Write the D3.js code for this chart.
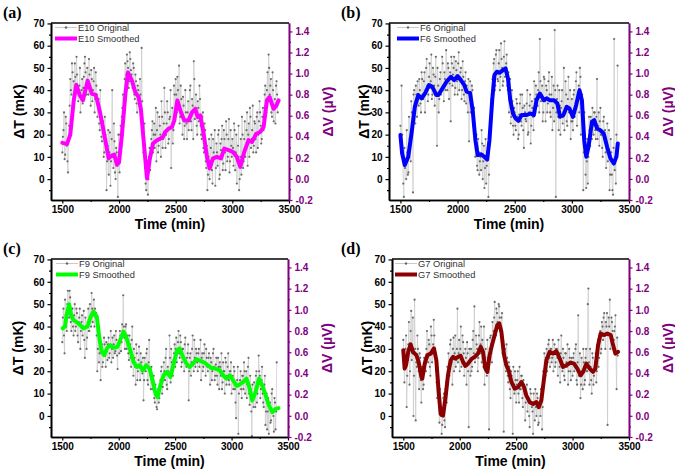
<!DOCTYPE html>
<html><head><meta charset="utf-8">
<script src="https://cdn.jsdelivr.net/npm/d3@7"></script>
<style>body{margin:0;background:#fff}svg{display:block}</style>
</head><body><svg id="c" width="675" height="470"></svg>
<script>
// ---------------- DATA ----------------
const sampleTimes = d3.range(1500, 3401, 10); // samples at 1500,1510,...,3400 (min)
const offsetTimes = d3.range(1505, 3400, 10); // samples at 1505,1515,...,3395 (min)

const e10Original = [
12,22,9,28,15,3,24,45,38,48,
44,52,39,47,35,42,30,40,34,46,
55,43,50,38,47,33,45,40,50,36,
42,28,36,22,30,17,26,12,20,-5,
15,2,21,8,40,5,17,0,12,-8,
9,20,15,32,26,45,40,56,50,44,
54,47,41,50,36,44,30,40,33,38,
59,25,18,5,-5,8,0,14,10,22,
12,25,20,8,30,15,24,10,28,18,
41,14,25,30,18,28,5,32,22,38,
45,30,40,51,28,36,20,33,24,30,
18,35,28,42,22,33,53,27,38,20,
32,42,24,18,30,12,22,5,-5,10,
0,14,4,18,9,-3,16,6,22,2,
13,24,7,18,4,20,10,27,8,15,
18,6,22,12,-2,15,-5,10,2,20,
8,26,14,30,20,10,28,18,33,15,
25,12,30,20,35,24,18,32,26,42,
30,48,56,38,45,28,40,33,25,44,30];
const e10OriginalOffset = [
19,30,11,25,8,18,33,40,52,36,
38,46,55,42,38,50,37,45,41,52,
48,38,44,54,41,49,35,44,30,48,
38,33,25,40,19,24,10,28,15,8,
22,12,-3,18,10,25,3,14,6,20,
3,24,28,38,35,52,47,53,41,57,
49,43,52,38,47,34,42,36,45,30,
35,12,25,-2,6,-7,10,4,18,26,
20,14,32,22,12,28,20,35,14,25,
30,20,35,16,27,40,24,16,42,30,
38,46,33,25,42,30,37,18,40,25,
30,22,40,26,36,18,45,32,24,35,
26,36,20,28,14,25,8,15,2,18,
8,20,-2,12,22,5,12,20,0,16,
18,4,22,12,26,8,18,3,22,10,
14,25,4,20,8,24,0,18,28,5,
18,10,22,6,25,32,14,22,12,26,
18,28,14,26,30,16,28,22,38,33,
40,35,50,42,30,48,26,36,42,38];
const e10Smoothed = [[1500,16.3],[1541,15.7],[1570,20],[1600,35],[1623,42.4],[1655,37.6],[1682,35.4],[1723,44.3],[1760,38.4],[1791,38],[1805,36],[1835,29.4],[1879,17.5],[1909,9.3],[1938,10.7],[1959,11],[1982,6.5],[2000,7.5],[2026,20],[2056,38],[2079,48],[2114,44.3],[2144,39],[2173,36.9],[2194,31],[2217,17.5],[2247,0.3],[2270,8.5],[2300,16],[2335,17.5],[2364,18.2],[2388,19],[2408,21.2],[2438,22.7],[2467,23.4],[2488,26.4],[2515,35.4],[2541,30.9],[2576,26.4],[2614,26.4],[2644,30],[2673,31.6],[2694,27.9],[2717,28.7],[2747,20.4],[2776,10],[2800,4.8],[2829,9.3],[2864,10],[2900,9.3],[2929,13.7],[2967,13],[3005,12.2],[3040,10],[3070,5.5],[3105,12.2],[3143,17.5],[3173,16.7],[3211,20.4],[3246,21.2],[3276,23.4],[3305,35.4],[3329,36.9],[3364,31.6],[3388,33],[3408,35.4]];

const f6Original = [
24,42,10,-8,5,0,12,3,18,8,
30,-6,40,25,38,44,33,40,30,45,
36,48,40,54,35,46,41,56,38,47,
33,55,15,42,36,48,40,52,35,45,
58,40,50,43,26,52,47,55,41,49,
38,57,45,50,40,46,35,48,42,30,
17,44,36,40,28,20,14,6,18,2,
10,22,0,15,5,-2,12,-8,18,28,
38,46,54,42,58,45,52,40,61,50,
44,62,48,56,40,30,45,28,35,20,
30,22,34,18,29,38,24,32,14,30,
26,40,21,33,16,35,28,44,30,38,
33,48,63,35,42,30,45,26,40,34,
48,30,38,22,42,67,-8,36,28,40,
20,35,25,50,30,38,24,46,32,18,
36,22,40,30,48,35,42,50,20,38,
-5,30,2,8,-2,28,15,25,32,20,
30,18,45,24,15,32,20,10,28,22,
5,25,12,-5,18,2,-7,63,10,20,51];
const f6OriginalOffset = [
12,20,-2,14,8,22,2,28,14,35,
22,38,32,42,28,36,45,34,48,38,
44,30,50,42,38,52,44,36,50,42,
46,38,50,30,45,38,55,42,48,40,
44,52,36,48,55,42,50,38,53,44,
52,40,48,36,53,38,44,34,40,45,
38,30,42,24,32,10,20,4,12,8,
4,16,8,-4,18,6,14,2,24,36,
45,52,40,56,48,44,58,46,54,42,
55,46,52,42,48,36,25,40,24,32,
24,36,28,20,34,26,38,22,33,27,
34,20,30,38,24,32,22,36,42,33,
40,30,44,38,26,46,35,42,30,44,
38,28,46,32,26,40,30,42,22,33,
32,40,28,22,44,26,36,30,40,26,
26,38,28,44,24,36,30,46,34,28,
12,20,-4,18,10,22,28,18,24,30,
22,28,18,30,26,20,14,26,18,12,
16,8,22,2,12,-5,14,4,-2,16];
const f6Smoothed = [[1500,19.8],[1515,11.5],[1538,6.3],[1568,10],[1597,20.5],[1626,32.5],[1656,37.8],[1685,36.3],[1715,38.5],[1750,42.3],[1779,41.5],[1815,37.8],[1832,37.8],[1868,40.8],[1903,43.8],[1941,46],[1970,44.5],[2000,46.3],[2029,44.5],[2059,42.3],[2079,39.3],[2109,38.8],[2132,31],[2156,17.5],[2176,10.8],[2206,11.2],[2235,10],[2259,8.8],[2279,17.5],[2303,35.5],[2323,46.8],[2344,48.3],[2367,47.8],[2397,49],[2420,49.8],[2441,45.3],[2461,35.5],[2485,29.5],[2508,27.3],[2532,26.2],[2561,28.8],[2602,28.8],[2638,29.5],[2667,28.8],[2691,35.5],[2720,38.5],[2755,35.5],[2779,36.3],[2808,35.5],[2844,35.5],[2873,34],[2897,28],[2926,28.8],[2955,32.5],[2979,31.8],[3008,28],[3038,33.3],[3067,40],[3088,35.5],[3108,17.5],[3126,10],[3146,14.5],[3176,25.8],[3196,26.5],[3220,22.8],[3249,22],[3279,20.5],[3308,14.5],[3338,9.3],[3367,7],[3390,10],[3402,16]];

const f9Original = [
33,48,28,45,38,56,44,53,38,48,
36,50,40,46,33,44,30,42,36,47,
26,40,35,48,38,44,55,42,52,48,
46,20,40,28,16,32,24,35,27,33,
25,35,28,38,30,26,36,29,34,21,
32,38,29,41,54,35,40,30,36,25,
32,22,40,18,26,14,28,20,31,16,
24,19,7,26,20,30,14,34,18,22,
12,18,6,10,3,12,8,16,22,13,
24,16,30,12,20,36,15,24,18,28,
22,35,28,38,26,33,24,30,20,35,
22,28,7,26,18,30,24,34,22,28,
20,30,25,16,28,22,32,18,26,20,
28,14,24,20,30,16,23,18,26,12,
22,28,15,20,10,24,18,28,14,20,
10,18,22,12,-1,16,-8,14,20,8,
18,24,10,20,14,26,5,12,-9,8,
15,4,20,10,27,18,12,22,6,14,
-4,10,2,-8,6,-2,12,0,8,-6,24];
const f9OriginalOffset = [
44,36,52,40,50,46,56,42,48,40,
45,38,48,36,42,48,38,45,40,34,
44,30,42,38,50,40,48,45,40,44,
36,30,24,34,30,22,28,32,22,29,
32,26,31,24,35,32,28,38,27,32,
28,36,33,38,40,30,41,34,28,36,
26,34,24,30,22,32,16,25,22,28,
20,26,16,22,28,16,24,20,12,18,
16,8,14,4,10,6,14,20,10,18,
20,26,14,22,18,26,30,20,25,32,
30,24,33,28,36,22,30,26,32,24,
26,32,20,28,24,36,20,26,30,24,
28,22,34,26,20,28,24,30,22,26,
22,26,16,28,22,18,26,14,22,24,
18,12,24,20,26,14,22,16,20,24,
16,12,20,6,14,22,10,16,12,18,
12,20,16,8,22,10,18,2,14,4,
10,18,6,14,20,8,16,10,4,18,
2,-6,8,4,-3,10,2,-7,6,2];
const f9Smoothed = [[1504,39.2],[1524,40],[1539,45.2],[1560,50],[1578,45.2],[1598,43],[1643,41.4],[1687,39.2],[1723,40],[1752,44.4],[1776,46.7],[1806,44.4],[1829,34.7],[1850,28.7],[1871,27.2],[1895,30.2],[1924,31.7],[1954,30.5],[1989,30.9],[2019,34.7],[2043,37.7],[2066,35.4],[2102,29.4],[2132,24.2],[2161,21.9],[2185,22.7],[2215,20.4],[2244,22.7],[2274,21.2],[2303,15.2],[2327,9.9],[2345,8.4],[2369,13.7],[2398,18.2],[2428,19.7],[2458,17.4],[2487,23.4],[2517,29.4],[2540,30.2],[2570,26.4],[2600,23.4],[2629,21.9],[2659,23.4],[2688,25.4],[2724,24.6],[2759,23.9],[2789,22.7],[2819,21.5],[2857,21.2],[2896,20.4],[2925,18.2],[2955,16.7],[2985,18.2],[3014,15.9],[3044,13.4],[3073,14.1],[3103,15.2],[3132,16.7],[3153,13.7],[3183,6.9],[3213,10.7],[3243,16.7],[3272,13.7],[3302,9.2],[3331,4.7],[3361,1.7],[3390,3.2],[3415,3.5]];

const g7Original = [
34,15,30,4,25,42,20,47,28,0,
52,-2,22,30,12,26,6,18,14,25,
20,38,24,32,18,36,28,43,30,20,
8,14,-3,4,-8,2,10,-5,15,22,
28,18,34,24,30,20,36,25,48,28,
20,40,26,33,18,30,14,28,-5,24,
30,22,38,49,26,32,20,36,28,40,
34,22,14,30,18,26,-6,35,28,42,
38,51,36,46,40,49,38,44,28,-7,
30,20,26,15,22,8,18,-8,14,20,
6,16,10,22,12,18,4,14,-2,10,
2,8,-5,10,4,-8,6,12,0,8,
-3,5,12,-6,20,28,18,30,24,34,
22,30,26,20,32,24,30,18,28,15,
36,20,26,16,28,22,14,30,20,26,
18,28,22,32,14,45,20,8,26,12,
24,16,30,20,57,14,22,10,26,18,
24,15,30,22,36,28,42,34,46,30,
40,-4,44,52,34,42,30,38,45,12,27];
const g7OriginalOffset = [
26,22,36,18,32,14,38,25,44,18,
30,24,36,20,28,16,22,12,26,20,
30,26,34,22,40,24,32,36,26,15,
20,6,12,0,-4,8,-2,12,6,18,
20,32,26,14,35,28,22,30,24,34,
30,22,36,28,22,26,33,20,30,18,
20,34,28,24,36,30,26,42,32,24,
28,40,26,20,34,22,30,36,24,32,
44,36,48,42,50,44,36,46,32,28,
24,32,18,24,12,20,14,22,10,16,
14,20,6,12,18,8,16,10,6,14,
8,0,12,6,2,10,-2,4,10,-4,
6,0,10,4,14,22,26,20,32,26,
30,24,34,28,22,30,26,34,22,28,
24,30,18,28,24,32,20,26,16,24,
26,20,30,16,24,18,28,14,20,30,
14,26,20,50,24,30,16,28,14,22,
28,20,34,26,38,30,40,44,36,42,
46,36,40,30,44,38,34,40,28,35];
const g7Smoothed = [[1500,29.4],[1512,21.2],[1524,22.7],[1545,29],[1565,32],[1586,28.7],[1616,27.2],[1636,24.2],[1660,17.5],[1668,16.7],[1690,23.4],[1713,27.2],[1743,27.9],[1772,30.2],[1793,24.9],[1814,10.7],[1831,0.9],[1852,0.2],[1873,7.7],[1896,18.2],[1920,24.9],[1941,26.4],[1961,25.7],[1985,26.4],[2008,26.9],[2029,24.2],[2050,22.4],[2073,23.4],[2103,25.4],[2133,26.4],[2162,27.9],[2186,30.9],[2206,28.7],[2227,21.2],[2245,19.7],[2265,27.2],[2286,31.7],[2310,36.2],[2333,40.7],[2351,41.4],[2369,37.7],[2393,27.2],[2413,22.7],[2434,20.4],[2458,15.2],[2487,12.2],[2517,12.9],[2546,15.2],[2570,12.9],[2590,9.2],[2620,6.2],[2650,5.4],[2679,6.2],[2700,3.9],[2723,6.9],[2747,16.7],[2768,24.9],[2797,28.7],[2827,27.9],[2856,29],[2886,25.7],[2915,21.9],[2945,22.7],[2983,23.9],[3013,23.4],[3042,21.2],[3072,18.2],[3093,19.7],[3122,23.4],[3152,21.2],[3181,19.7],[3202,21.2],[3226,31.7],[3249,36.9],[3279,36.2],[3308,36.9],[3338,36.2],[3359,31.7],[3379,27.9],[3403,28.7]];

const xTicks = [1500, 2000, 2500, 3000, 3500];
const xMinor = [1750, 2250, 2750, 3250];
const yTicks = [0, 10, 20, 30, 40, 50, 60, 70];
const yMinor = [-5, 5, 15, 25, 35, 45, 55, 65];
const vTicks = [-0.2, 0, 0.2, 0.4, 0.6, 0.8, 1.0, 1.2, 1.4];
const vMinor = [-0.1, 0.1, 0.3, 0.5, 0.7, 0.9, 1.1, 1.3];

// ---------------- LAYOUT ----------------
const panels = [
  {tag:"(a)", name:"E10", orig:e10Original, orig2:e10OriginalOffset, smooth:e10Smoothed, color:"#ff00ff", x0:51,  x1:289, y0:23,  y1:200, tagX:3,   ylab:-27, leg:4},
  {tag:"(b)", name:"F6",  orig:f6Original,  orig2:f6OriginalOffset,  smooth:f6Smoothed,  color:"#0000ff", x0:389, x1:629, y0:23,  y1:200, tagX:341, ylab:-20, leg:8},
  {tag:"(c)", name:"F9",  orig:f9Original,  orig2:f9OriginalOffset,  smooth:f9Smoothed,  color:"#00ff00", x0:51,  x1:288, y0:259, y1:437, tagX:3,   ylab:-28, leg:5},
  {tag:"(d)", name:"G7",  orig:g7Original,  orig2:g7OriginalOffset,  smooth:g7Smoothed,  color:"#8b0000", x0:392, x1:629, y0:259, y1:437, tagX:341, ylab:-20, leg:3}
];
const purple = "#800080";
const sans = "'Liberation Sans', Arial, sans-serif";
const svg = d3.select("#c");

panels.forEach((p, i) => {
  const g = svg.append("g");
  const x = d3.scaleLinear([1400, 3500], [p.x0, p.x1]);
  const y = d3.scaleLinear([-9.4, 70.2], [p.y1, p.y0]);
  const v = d3.scaleLinear([-0.2, 1.48], [p.y1, p.y0]);

  const cid = "clip" + i;
  svg.append("clipPath").attr("id", cid).append("rect")
    .attr("x", p.x0).attr("y", p.y0).attr("width", p.x1 - p.x0).attr("height", p.y1 - p.y0);
  const plot = g.append("g").attr("clip-path", `url(#${cid})`);

  const pts = p.orig.map((val, k) => [sampleTimes[k], val])
    .concat(p.orig2.map((val, k) => [offsetTimes[k], val]))
    .sort((a, b) => a[0] - b[0]);
  plot.append("path").datum(pts)
    .attr("d", d3.line().x(d => x(d[0])).y(d => y(d[1])))
    .attr("fill", "none").attr("stroke", "#c8c8c8").attr("stroke-width", 0.7);
  plot.selectAll("circle").data(pts).join("circle")
    .attr("cx", d => x(d[0])).attr("cy", d => y(d[1])).attr("r", 1.1).attr("fill", "#6a6a6a");
  plot.append("path").datum(p.smooth)
    .attr("d", d3.line().x(d => x(d[0])).y(d => y(d[1])))
    .attr("fill", "none").attr("stroke", p.color).attr("stroke-width", 4)
    .attr("stroke-linejoin", "round").attr("stroke-linecap", "round");

  // axes
  const styleAxis = (sel, col) => {
    sel.attr("font-size", null).attr("font-family", null);
    sel.select(".domain").attr("stroke", col).attr("stroke-width", 1.6);
    sel.selectAll(".tick line").attr("stroke", col).attr("stroke-width", 1.2);
    sel.selectAll(".tick text").attr("fill", col).style("font-family", sans)
      .style("font-weight", "bold").style("font-size", "10px");
  };
  const fmtInt = d3.format("d");
  g.append("g").attr("transform", `translate(${p.x0},0)`)
    .call(d3.axisLeft(y).tickValues(yMinor).tickSize(2).tickFormat("").tickSizeOuter(0))
    .call(s => styleAxis(s, "#000"));
  g.append("g").attr("transform", `translate(${p.x0},0)`)
    .call(d3.axisLeft(y).tickValues(yTicks).tickSize(3.5).tickPadding(3).tickSizeOuter(0).tickFormat(fmtInt))
    .call(s => styleAxis(s, "#000"));
  g.append("g").attr("transform", `translate(0,${p.y1})`)
    .call(d3.axisBottom(x).tickValues(xMinor).tickSize(2).tickFormat("").tickSizeOuter(0))
    .call(s => styleAxis(s, "#000"));
  g.append("g").attr("transform", `translate(0,${p.y1})`)
    .call(d3.axisBottom(x).tickValues(xTicks).tickSize(3.5).tickPadding(2).tickSizeOuter(0).tickFormat(fmtInt))
    .call(s => styleAxis(s, "#000"));
  g.append("g").attr("transform", `translate(${p.x1},0)`)
    .call(d3.axisRight(v).tickValues(vMinor).tickSize(2).tickFormat("").tickSizeOuter(0))
    .call(s => styleAxis(s, purple));
  g.append("g").attr("transform", `translate(${p.x1},0)`)
    .call(d3.axisRight(v).tickValues(vTicks).tickSize(3.5).tickPadding(3).tickSizeOuter(0)
      .tickFormat(d => d.toFixed(1)))
    .call(s => styleAxis(s, purple));
  g.append("line").attr("x1", p.x0).attr("x2", p.x1).attr("y1", p.y0).attr("y2", p.y0)
    .attr("stroke", "#000").attr("stroke-width", 1.6);

  // titles
  const midY = (p.y0 + p.y1) / 2;
  g.append("text").attr("transform", `translate(${p.x0 + p.ylab},${midY}) rotate(-90)`)
    .attr("text-anchor", "middle").attr("font-family", sans).attr("font-weight", "bold")
    .attr("font-size", "14px").text("ΔT (mK)");
  g.append("text").attr("transform", `translate(${p.x1 + 44},${midY}) rotate(-90)`)
    .attr("text-anchor", "middle").attr("font-family", sans).attr("font-weight", "bold")
    .attr("font-size", "14px").attr("fill", purple).text("ΔV (µV)");
  g.append("text").attr("x", (p.x0 + p.x1) / 2).attr("y", p.y1 + 29)
    .attr("text-anchor", "middle").attr("font-family", sans).attr("font-weight", "bold")
    .attr("font-size", "14px").text("Time (min)");
  g.append("text").attr("x", p.tagX).attr("y", p.y0 - 5)
    .attr("font-family", "'Liberation Serif', 'Times New Roman', serif").attr("font-weight", "bold")
    .attr("font-size", "16px").text(p.tag);

  // legend
  const lx = p.x0 + p.leg, ly1 = p.y0 + 4.5, ly2 = p.y0 + 15.5;
  g.append("line").attr("x1", lx).attr("x2", lx + 22).attr("y1", ly1).attr("y2", ly1)
    .attr("stroke", "#bdbdbd").attr("stroke-width", 0.8);
  g.append("circle").attr("cx", lx + 11).attr("cy", ly1).attr("r", 1.2).attr("fill", "#666");
  g.append("line").attr("x1", lx).attr("x2", lx + 22).attr("y1", ly2).attr("y2", ly2)
    .attr("stroke", p.color).attr("stroke-width", 4);
  g.append("text").attr("x", lx + 23).attr("y", ly1).attr("dy", "0.35em")
    .attr("font-family", sans).attr("font-size", "9.3px").attr("fill", "#333").text(p.name + " Original");
  g.append("text").attr("x", lx + 23).attr("y", ly2).attr("dy", "0.35em")
    .attr("font-family", sans).attr("font-size", "9.3px").attr("fill", "#333").text(p.name + " Smoothed");
});
</script></body></html>
